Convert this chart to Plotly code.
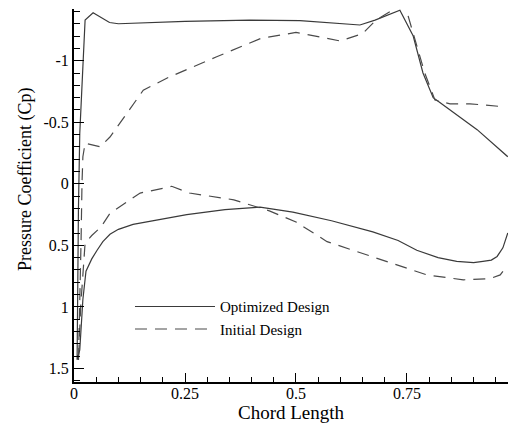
import plotly.graph_objects as go

# Optimized design (solid): upper surface TE -> LE, then lower surface LE -> TE
opt_x = [0.977, 0.908, 0.824, 0.809, 0.786, 0.764, 0.734, 0.678, 0.644, 0.509, 0.396, 0.25, 0.10, 0.080,
         0.043, 0.025, 0.020, 0.016, 0.013, 0.010, 0.008, 0.007, 0.013, 0.020, 0.027, 0.040, 0.052, 0.065, 0.081,
         0.100, 0.133, 0.190, 0.254, 0.340, 0.419, 0.493, 0.580, 0.673, 0.730, 0.772, 0.820, 0.862, 0.900,
         0.921, 0.940, 0.953, 0.966, 0.977]
opt_cp = [-0.22, -0.44, -0.66, -0.70, -0.90, -1.20, -1.41, -1.33, -1.29, -1.325, -1.33, -1.32, -1.30, -1.31,
          -1.39, -1.33, -0.95, -0.68, -0.41, 0.20, 0.90, 1.43, 1.35, 0.94, 0.71, 0.61, 0.54, 0.47, 0.41,
          0.37, 0.33, 0.29, 0.25, 0.21, 0.19, 0.23, 0.30, 0.39, 0.46, 0.54, 0.60, 0.63, 0.64,
          0.63, 0.62, 0.59, 0.52, 0.40]

# Initial design (dashed)
ini_x = [0.955, 0.892, 0.847, 0.813, 0.790, 0.770, 0.752, 0.740, 0.680, 0.650, 0.600, 0.500, 0.420,
         0.320, 0.210, 0.156, 0.104, 0.081, 0.059, 0.036, 0.025, 0.020, 0.018, 0.016, 0.012, 0.010,
         0.015, 0.022, 0.025, 0.040, 0.061, 0.081, 0.149, 0.209, 0.220, 0.260, 0.360, 0.440, 0.500,
         0.570, 0.696, 0.795, 0.877, 0.937, 0.960, 0.975]
ini_cp = [-0.63, -0.65, -0.65, -0.68, -0.90, -1.15, -1.37, -1.46, -1.33, -1.22, -1.16, -1.23, -1.18,
          -1.03, -0.86, -0.76, -0.50, -0.38, -0.30, -0.32, -0.33, -0.22, 0.00, 0.45, 1.00, 1.45,
          1.00, 0.60, 0.48, 0.42, 0.35, 0.24, 0.075, 0.03, 0.02, 0.075, 0.13, 0.22, 0.31,
          0.47, 0.62, 0.74, 0.78, 0.77, 0.74, 0.67]

x_ticks = [0, 0.25, 0.5, 0.75]
x_tick_text = ["0", "0.25", "0.5", "0.75"]
y_ticks = [-1, -0.5, 0, 0.5, 1, 1.5]
y_tick_text = ["-1", "-0.5", "0", "0.5", "1", "1.5"]

serif = "Liberation Serif, Times New Roman, serif"

fig = go.Figure()
fig.add_trace(go.Scatter(x=opt_x, y=opt_cp, mode="lines", name="Optimized Design",
                         line=dict(color="#3a3a3a", width=1.2)))
fig.add_trace(go.Scatter(x=ini_x, y=ini_cp, mode="lines", name="Initial Design",
                         line=dict(color="#4a4a4a", width=1.2, dash="12px,8px")))

fig.update_layout(
    width=508, height=423,
    margin=dict(l=74, r=0, t=9, b=41),
    paper_bgcolor="white", plot_bgcolor="white",
    font=dict(family=serif, color="black", size=16),
    showlegend=True,
    legend=dict(x=0.129, y=0.246, xanchor="left", yanchor="top",
                bgcolor="rgba(0,0,0,0)", font=dict(family=serif, size=15, color="black"),
                itemwidth=80, tracegroupgap=0),
    xaxis=dict(range=[0, 0.9775], tickvals=x_ticks, ticktext=x_tick_text, automargin=False,
               showgrid=False, zeroline=False, showline=True, linecolor="black", linewidth=2,
               ticks="inside", ticklen=9, tickwidth=1, tickcolor="black", ticklabelstandoff=-4,
               minor=dict(dtick=0.05, tick0=0, ticks="inside", ticklen=5, tickwidth=1, tickcolor="black"),
               tickfont=dict(size=16),
               title=dict(text="Chord Length", font=dict(size=19), standoff=0)),
    yaxis=dict(range=[1.61, -1.42], tickvals=y_ticks, ticktext=y_tick_text, automargin=False,
               showgrid=False, zeroline=False, showline=True, linecolor="black", linewidth=2,
               ticks="inside", ticklen=10, tickwidth=1, tickcolor="black",
               minor=dict(dtick=0.1, tick0=0, ticks="inside", ticklen=6, tickwidth=1, tickcolor="black"),
               tickfont=dict(size=16)),
    annotations=[dict(text="Pressure Coefficient (Cp)", xref="paper", yref="paper",
                      x=-0.113, y=0.544, xanchor="center", yanchor="middle", textangle=-90,
                      showarrow=False, font=dict(family=serif, size=18, color="black"))],
)

fig.write_html("out.html", config={"displayModeBar": False},
               post_script="document.body.style.margin='0px';")
